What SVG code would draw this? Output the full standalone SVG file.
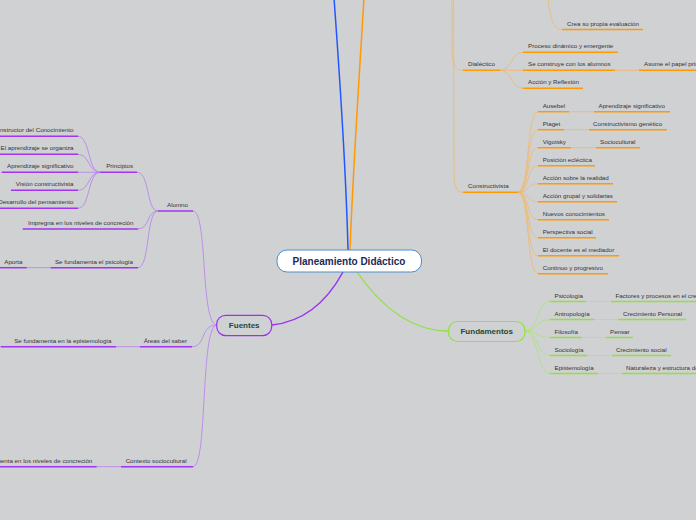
<svg xmlns="http://www.w3.org/2000/svg" width="696" height="520" viewBox="0 0 696 520">
<style>
.t{font-family:"Liberation Sans",Arial,sans-serif;font-size:6.2px;fill:#333}
.r{text-anchor:end}
.nb{font-family:"Liberation Sans",Arial,sans-serif;font-weight:bold;text-anchor:middle}
.uo{stroke:#ff9a00;stroke-width:1.5;fill:none}
.co{stroke:#f3b868;stroke-width:0.8;fill:none}
.up{stroke:#a233f0;stroke-width:1.5;fill:none}
.cp{stroke:#b67ef0;stroke-width:0.8;fill:none}
.ug{stroke:#8fe23a;stroke-width:1.5;fill:none}
.cg{stroke:#a9e670;stroke-width:0.8;fill:none}
</style>
<rect width="696" height="520" fill="#d0d1d3"/>
<g id="connectors">
<path d="M348,250 C346,170 340,80 334,-2" stroke="#2257ff" stroke-width="1.5" fill="none"/>
<path d="M350,250 C353,170 359,80 364,-2" stroke="#ff9a00" stroke-width="1.5" fill="none"/>
<path d="M343,272 C325,305 300,322 272,325" stroke="#9b30f5" stroke-width="1.5" fill="none"/>
<path d="M357,272 C380,305 410,331 448,331" stroke="#8fe23a" stroke-width="1.3" fill="none"/>
<path class="co" d="M452,-2 L452,50 C452,66 456,70.3 463,70.3"/>
<path class="co" d="M453.5,-2 L454,172 C454,188 457,192.3 463,192.3"/>
<path class="co" d="M548,-2 C550,18 553,29.5 562,29.5"/>
<path class="co" d="M500,70.3 C512,70.3 511,52.3 523,52.3"/>
<path class="co" d="M500,70.3 L523,70.3"/>
<path class="co" d="M500,70.3 C512,70.3 511,88.3 523,88.3"/>
<path class="co" d="M615,70.3 L639,70.3"/>
<path class="co" d="M518,192.3 C530,192.3 526,111.7 538,111.7"/>
<path class="co" d="M518,192.3 C530,192.3 526,129.7 538,129.7"/>
<path class="co" d="M518,192.3 C530,192.3 526,147.7 538,147.7"/>
<path class="co" d="M518,192.3 C530,192.3 526,165.7 538,165.7"/>
<path class="co" d="M518,192.3 C530,192.3 526,183.7 538,183.7"/>
<path class="co" d="M518,192.3 C530,192.3 526,201.7 538,201.7"/>
<path class="co" d="M518,192.3 C530,192.3 526,219.7 538,219.7"/>
<path class="co" d="M518,192.3 C530,192.3 526,237.7 538,237.7"/>
<path class="co" d="M518,192.3 C530,192.3 526,255.7 538,255.7"/>
<path class="co" d="M518,192.3 C530,192.3 526,273.7 538,273.7"/>
<path class="co" d="M569,111.7 L594,111.7 M564,129.7 L589,129.7 M571,147.7 L596,147.7"/>
<path class="cg" d="M525,331 C538,331 537,301.5 550,301.5"/>
<path class="cg" d="M525,331 C538,331 537,319.5 550,319.5"/>
<path class="cg" d="M525,331 C538,331 537,337.5 550,337.5"/>
<path class="cg" d="M525,331 C538,331 537,355.5 550,355.5"/>
<path class="cg" d="M525,331 C538,331 537,373.5 550,373.5"/>
<path class="cg" d="M586,301.5 L611,301.5 M594,319.5 L618,319.5 M582,337.5 L606,337.5 M587,355.5 L612,355.5 M598,373.5 L622,373.5"/>
<path class="cp" d="M217,325 C200,325 208,211 193,211"/>
<path class="cp" d="M217,325 C200,325 206,346.7 192,346.7"/>
<path class="cp" d="M217,325 C200,325 208,466.7 193,466.7"/>
<path class="cp" d="M158,211 C146,211 150,172.3 137,172.3"/>
<path class="cp" d="M158,211 C146,211 150,229 138,229"/>
<path class="cp" d="M158,211 C146,211 150,267.7 138,267.7"/>
<path class="cp" d="M100,172.3 C88,172.3 90,136.3 78,136.3"/>
<path class="cp" d="M100,172.3 C88,172.3 90,154.3 78,154.3"/>
<path class="cp" d="M100,172.3 L78,172.3"/>
<path class="cp" d="M100,172.3 C88,172.3 90,190.3 78,190.3"/>
<path class="cp" d="M100,172.3 C88,172.3 90,208.3 78,208.3"/>
<path class="cp" d="M26.7,267.7 L50.7,267.7 M116,346.7 L140,346.7 M96.7,466.7 L121,466.7"/>
<path class="cp" d="M1,346.7 C-2,346.7 -1,342 -6,342 M1,346.7 C-2,346.7 -1,351.5 -6,351.5"/>
</g>
<g id="central">
<rect x="277" y="250" width="144.5" height="22" rx="10" fill="#fff" stroke="#4a90cf" stroke-width="1"/>
<text class="nb" x="349" y="264.6" font-size="10" fill="#1c2a55">Planeamiento Didáctico</text>
</g>
<g id="fundamentos">
<rect x="448.5" y="321.5" width="76.5" height="20" rx="9" fill="#d0d1d3" stroke="#8fe23a" stroke-width="1.2"/>
<text class="nb" x="486.7" y="334.3" font-size="8" fill="#1d4a33">Fundamentos</text>
</g>
<g id="fuentes">
<rect x="216.7" y="315.3" width="55" height="20.3" rx="9" fill="#d0d1d3" stroke="#9b30f5" stroke-width="1.2"/>
<text class="nb" x="244.2" y="328.3" font-size="8" fill="#1d4a33">Fuentes</text>
</g>
<g id="crea"><path class="uo" d="M562,29.5 H643"/><text class="t" x="567" y="25.5">Crea su propia evaluación</text></g>
<g id="dialectico"><path class="uo" d="M463,70.3 H500"/><text class="t" x="468" y="66.3">Dialéctico</text></g>
<g id="proceso"><path class="uo" d="M523,52.3 H618"/><text class="t" x="528" y="48.3">Proceso dinámico y emergente</text></g>
<g id="seconstruye"><path class="uo" d="M523,70.3 H615"/><text class="t" x="528" y="66.3">Se construye con los alumnos</text></g>
<g id="asume"><path class="uo" d="M639,70.3 H700"/><text class="t" x="644" y="66.3">Asume el papel principal</text></g>
<g id="accion"><path class="uo" d="M523,88.3 H583"/><text class="t" x="528" y="84.3">Acción y Reflexión</text></g>
<g id="constructivista"><path class="uo" d="M463,192.3 H518"/><text class="t" x="468" y="188.3">Constructivista</text></g>
<g id="ausebel"><path class="uo" d="M538,111.7 H569"/><text class="t" x="542.7" y="107.7">Ausebel</text></g>
<g id="aprsig"><path class="uo" d="M594,111.7 H670"/><text class="t" x="598.5" y="107.7">Aprendizaje significativo</text></g>
<g id="piaget"><path class="uo" d="M538,129.7 H564"/><text class="t" x="542.7" y="125.7">Piaget</text></g>
<g id="constgen"><path class="uo" d="M589,129.7 H667"/><text class="t" x="593" y="125.7">Constructivismo genético</text></g>
<g id="vigotsky"><path class="uo" d="M538,147.7 H571"/><text class="t" x="542.7" y="143.7">Vigotsky</text></g>
<g id="sociocultural"><path class="uo" d="M596,147.7 H640"/><text class="t" x="600" y="143.7">Sociocultural</text></g>
<g id="posicion"><path class="uo" d="M538,165.7 H595"/><text class="t" x="542.7" y="161.7">Posición ecléctica</text></g>
<g id="accionreal"><path class="uo" d="M538,183.7 H613"/><text class="t" x="542.7" y="179.7">Acción sobre la realidad</text></g>
<g id="acciongrupal"><path class="uo" d="M538,201.7 H617"/><text class="t" x="542.7" y="197.7">Acción grupal y solidarias</text></g>
<g id="nuevos"><path class="uo" d="M538,219.7 H609"/><text class="t" x="542.7" y="215.7">Nuevos conocimientos</text></g>
<g id="perspectiva"><path class="uo" d="M538,237.7 H596"/><text class="t" x="542.7" y="233.7">Perspectiva social</text></g>
<g id="docente"><path class="uo" d="M538,255.7 H619"/><text class="t" x="542.7" y="251.7">El docente es el mediador</text></g>
<g id="continuo"><path class="uo" d="M538,273.7 H608"/><text class="t" x="542.7" y="269.7">Continuo y progresivo</text></g>
<g id="psicologia"><path class="ug" d="M550,301.5 H586"/><text class="t" x="554.5" y="297.5">Psicología</text></g>
<g id="factores"><path class="ug" d="M611,301.5 H700"/><text class="t" x="615.5" y="297.5">Factores y procesos en el crecimiento</text></g>
<g id="antropologia"><path class="ug" d="M550,319.5 H594"/><text class="t" x="554.5" y="315.5">Antropología</text></g>
<g id="crecpersonal"><path class="ug" d="M618,319.5 H686"/><text class="t" x="623" y="315.5">Crecimiento Personal</text></g>
<g id="filosofia"><path class="ug" d="M550,337.5 H582"/><text class="t" x="554.5" y="333.5">Filosofía</text></g>
<g id="pensar"><path class="ug" d="M606,337.5 H633"/><text class="t" x="610" y="333.5">Pensar</text></g>
<g id="sociologia"><path class="ug" d="M550,355.5 H587"/><text class="t" x="554.5" y="351.5">Sociología</text></g>
<g id="crecsocial"><path class="ug" d="M612,355.5 H671"/><text class="t" x="616" y="351.5">Crecimiento social</text></g>
<g id="epistemologia"><path class="ug" d="M550,373.5 H598"/><text class="t" x="554.5" y="369.5">Epistemología</text></g>
<g id="naturaleza"><path class="ug" d="M622,373.5 H700"/><text class="t" x="626" y="369.5">Naturaleza y estructura del conocimiento</text></g>
<g id="alumno"><path class="up" d="M158,211 H193"/><text class="t r" x="188" y="207">Alumno</text></g>
<g id="principios"><path class="up" d="M100,172.3 H137"/><text class="t r" x="133" y="168.3">Principios</text></g>
<g id="constructor"><path class="up" d="M-2,136.3 H78"/><text class="t r" x="73.5" y="132.3">Constructor del Conocimiento</text></g>
<g id="organiza"><path class="up" d="M-2,154.3 H78"/><text class="t r" x="73.5" y="150.3">El aprendizaje se organiza</text></g>
<g id="aprsig2"><path class="up" d="M1.7,172.3 H78"/><text class="t r" x="73.5" y="168.3">Aprendizaje significativo</text></g>
<g id="vision"><path class="up" d="M11,190.3 H78"/><text class="t r" x="73.5" y="186.3">Visión constructivista</text></g>
<g id="desarrollo"><path class="up" d="M-2,208.3 H78"/><text class="t r" x="73.5" y="204.3">Desarrollo del pensamiento</text></g>
<g id="impregna"><path class="up" d="M22.7,229 H138"/><text class="t r" x="133.5" y="225">Impregna en los niveles de concreción</text></g>
<g id="sefundpsico"><path class="up" d="M50.7,267.7 H138"/><text class="t r" x="133" y="263.7">Se fundamenta el psicología</text></g>
<g id="aporta"><path class="up" d="M-2,267.7 H26.7"/><text class="t r" x="22.5" y="263.7">Aporta</text></g>
<g id="areas"><path class="up" d="M140,346.7 H192"/><text class="t r" x="187" y="342.7">Áreas del saber</text></g>
<g id="sefundepis"><path class="up" d="M1,346.7 H116"/><text class="t r" x="111.5" y="342.7">Se fundamenta en la epistemología</text></g>
<g id="contexto"><path class="up" d="M121,466.7 H193"/><text class="t r" x="186.5" y="462.7">Contexto sociocultural</text></g>
<g id="sefundniveles"><path class="up" d="M-2,466.7 H96.7"/><text class="t r" x="92.3" y="462.7">Se fundamenta en los niveles de concreción</text></g>
</svg>
